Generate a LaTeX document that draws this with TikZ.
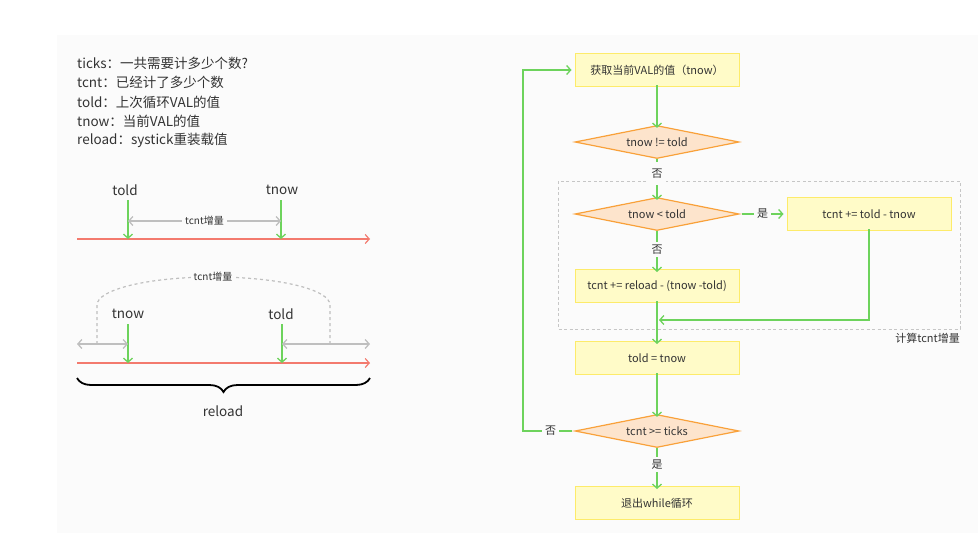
\documentclass[tikz,border=0pt]{standalone}
\usepackage{fontspec}
\setmainfont{Noto Sans CJK SC}
\usetikzlibrary{arrows.meta,shapes.geometric,decorations.pathreplacing}
\definecolor{bg}{HTML}{FBFBFB}
\definecolor{grn}{HTML}{6DD35C}
\definecolor{redl}{HTML}{F37A6E}
\definecolor{gryl}{HTML}{BFBFBF}
\definecolor{dfill}{HTML}{FDE4CC}
\definecolor{dline}{HTML}{F9A13A}
\definecolor{bfill}{HTML}{FFFBC8}
\definecolor{bline}{HTML}{FDEB6A}
\definecolor{txt}{HTML}{333333}
\newcommand\fsz[1]{\fontsize{#1}{#1}\selectfont}
\begin{document}
\begin{tikzpicture}[x=1pt,y=-1pt,
  every node/.style={text=txt},
  garrow/.style={draw=grn, line width=1.3pt, -{Straight Barb[length=4pt,width=9pt]}},
  gdbl/.style={draw=gryl, line width=1.3pt, {Straight Barb[length=4pt,width=9pt]}-{Straight Barb[length=4pt,width=9pt]}},
  rarrow/.style={draw=redl, line width=1.2pt, -{Straight Barb[length=4pt,width=9pt]}},
  procbox/.style={rectangle, draw=bline, fill=bfill, line width=1pt, minimum width=164pt, minimum height=33pt, inner sep=0pt, font=\fsz{11}},
  decision/.style={diamond, draw=dline, fill=dfill, line width=1.2pt, minimum width=164pt, minimum height=33pt, aspect=5, inner sep=0pt, font=\fsz{11}},
  lbl/.style={fill=bg, inner sep=3pt, font=\fsz{11}},
  legend/.style={anchor=west, inner sep=0pt, font=\fsz{13.5}},
  tlab/.style={inner sep=0pt, font=\fsz{13.5}},
  small/.style={fill=bg, inner sep=3pt, font=\fsz{10}, text=txt}
]
\fill[white] (0,0) rectangle (978,541);
\useasboundingbox (0,0) rectangle (978,541);
\fill[bg] (57,35) rectangle (978,533);

% legend
\node[legend] (l1) at (77,63) {ticks：一共需要计多少个数?};
\node[legend] (l2) at (77,82) {tcnt：已经计了多少个数};
\node[legend] (l3) at (77,102) {told：上次循环VAL的值};
\node[legend] (l4) at (77,121) {tnow：当前VAL的值};
\node[legend] (l5) at (77,140) {reload：systick重装载值};

% top timeline
\coordinate (ra1) at (77,239);
\coordinate (ra2) at (370,239);
\draw[rarrow] (ra1) -- (ra2);
\node[tlab] (toldA) at (125,190) {told};
\node[tlab] (tnowA) at (282,190) {tnow};
\coordinate (ga1) at (128,200); \coordinate (ga1e) at (128,239);
\coordinate (ga2) at (281,200); \coordinate (ga2e) at (281,239);
\draw[garrow] (ga1) -- (ga1e);
\draw[garrow] (ga2) -- (ga2e);
\coordinate (gd1) at (128,221); \coordinate (gd2) at (281,221);
\draw[gdbl] (gd1) -- node[small] {tcnt增量} (gd2);

% bottom timeline
\coordinate (rb1) at (77,363);
\coordinate (rb2) at (370,363);
\draw[rarrow] (rb1) -- (rb2);
\node[tlab] (tnowB) at (128,314) {tnow};
\node[tlab] (toldB) at (281,314) {told};
\coordinate (gb1) at (128,324); \coordinate (gb1e) at (128,363);
\coordinate (gb2) at (282,324); \coordinate (gb2e) at (282,363);
\draw[garrow] (gb1) -- (gb1e);
\draw[garrow] (gb2) -- (gb2e);
\coordinate (hl1) at (77,344); \coordinate (hl2) at (128,344);
\coordinate (hr1) at (282,344); \coordinate (hr2) at (370,344);
\draw[gdbl] (hl1) -- (hl2);
\draw[gdbl] (hr1) -- (hr2);
\coordinate (aL) at (97,344); \coordinate (aR) at (330,344);
\draw[gryl, line width=1.2pt, dash pattern=on 3pt off 3pt]
  (aL) -- (97,305) .. controls (97,289.5) and (148.5,277) .. (213.5,277)
  .. controls (278.5,277) and (330,289.5) .. (330,305) -- (aR);
\node[small] (inc2) at (213,277) {tcnt增量};

% brace
\coordinate (br1) at (77,378); \coordinate (br2) at (370,378);
\draw[black, line width=1.8pt, decorate, decoration={brace, amplitude=14pt, mirror}] (br1) -- (br2);
\node[tlab] (reload) at (223,411) {reload};

% flowchart
\draw[gray!45, line width=0.8pt, dash pattern=on 3pt off 2.5pt] (558,181) rectangle (960,329);
\node[anchor=north east, inner sep=0pt, font=\fsz{11}] (grp) at (960,333) {计算tcnt增量};

\node[procbox] (b1) at (657,70) {获取当前VAL的值（tnow）};
\node[decision] (d1) at (657,142) {tnow != told};
\node[decision] (d2) at (657,214) {tnow < told};
\node[procbox] (bR) at (869,214) {tcnt += told - tnow};
\node[procbox] (b2) at (657,286) {tcnt += reload - (tnow -told)};
\node[procbox] (b3) at (657,358) {told = tnow};
\node[decision] (d3) at (657,431) {tcnt >= ticks};
\node[procbox] (b4) at (657,503) {退出while循环};

\draw[garrow] ([yshift=2pt]b1.south) -- ([yshift=-3pt]d1.north);
\draw[garrow] (d1.south) -- node[lbl, pos=0.35, inner ysep=7pt] {否} ([yshift=-3pt]d2.north);
\draw[garrow] ([xshift=2pt]d2.east) -- node[lbl] {是} ([xshift=-3pt]bR.west);
\draw[garrow] (d2.south) -- node[lbl, pos=0.45] {否} ([yshift=-3pt]b2.north);
\coordinate (mj) at (659,320);
\draw[garrow] ([yshift=2pt]bR.south) |- (mj);
\draw[garrow] ([yshift=2pt]b2.south) -- ([yshift=-3pt]b3.north);
\draw[garrow] ([yshift=2pt]b3.south) -- ([yshift=-3pt]d3.north);
\draw[garrow] (d3.south) -- node[lbl, pos=0.4] {是} ([yshift=-3pt]b4.north);
\coordinate (lp) at (523,431);
\draw[garrow] ([xshift=-2pt]d3.west) -- node[lbl, pos=0.44] {否} (lp) |- ([xshift=-3pt]b1.west);
\end{tikzpicture}
\end{document}
